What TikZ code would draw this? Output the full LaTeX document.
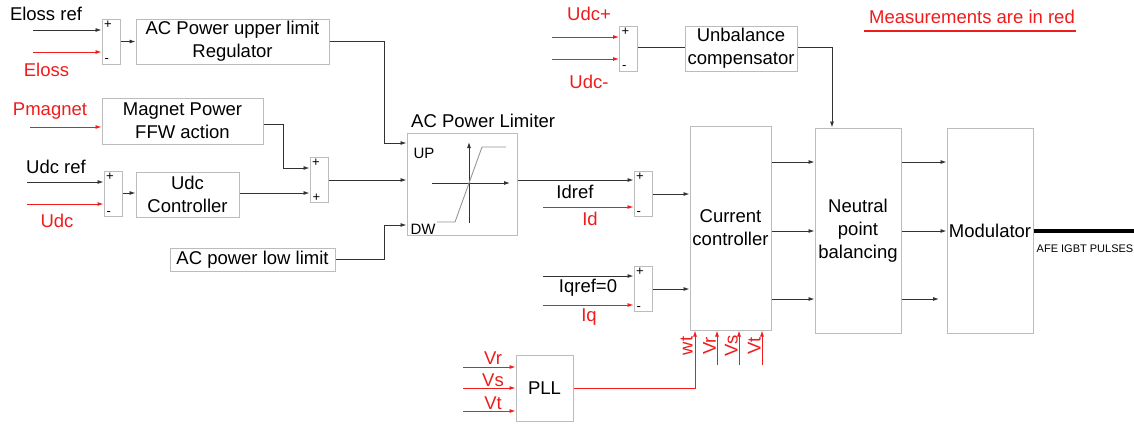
\documentclass[tikz,border=0pt]{standalone}
\usepackage{fontspec}
\setmainfont{Liberation Sans}
\usetikzlibrary{arrows.meta,calc}
\definecolor{mred}{RGB}{240,28,28}
\definecolor{bline}{RGB}{50,50,50}
\definecolor{bgray}{RGB}{188,188,188}
\definecolor{cgray}{RGB}{150,150,150}
\newcommand{\mysum}[4]{%
  \node[box,minimum width=18pt,minimum height=45pt] (#1) at (#2) {};
  \node[sgn,anchor=north west] at ($(#1.north west)+(2.5,2)$) {#3};
  \node[sgn,anchor=south west] at ($(#1.south west)+(3,-1.5)$) {#4};
}
\begin{document}
\begin{tikzpicture}[x=1pt,y=-1pt,
  box/.style={draw=bgray,line width=1pt,inner sep=0pt,align=center,font=\fontsize{18.5}{23}\selectfont},
  lbl/.style={inner sep=0pt,font=\fontsize{18.5}{23}\selectfont},
  rlbl/.style={lbl,text=mred},
  sgn/.style={inner sep=0pt,font=\fontsize{13}{13}\selectfont},
  wire/.style={draw=bline,line width=0.9pt},
  arr/.style={wire,-{Latex[length=6pt,width=4pt]}},
  rwire/.style={draw=mred,line width=0.9pt},
  rarr/.style={rwire,-{Latex[length=6pt,width=4pt]}},
]
\fill[white] (0,0) rectangle (1134,424);
\useasboundingbox (0,0) rectangle (1134,424);

% ---- blocks
\mysum{s1}{111,41.5}{+}{-}
\node[box,minimum width=193pt,minimum height=45pt] (ac) at (232.5,41.5) {AC Power upper limit\\Regulator};
\node[box,minimum width=161pt,minimum height=46pt] (mag) at (182.5,121) {Magnet Power\\FFW action};
\mysum{s2}{319,180}{+}{+}
\mysum{s3}{113,194}{+}{-}
\node[box,minimum width=103pt,minimum height=45pt] (udc) at (187.5,194.5) {Udc\\Controller};
\node[box,minimum width=165pt,minimum height=23pt] (low) at (252.5,259.5) {AC power low limit};
\node[box,minimum width=110pt,minimum height=102pt] (lim) at (462,184) {};
\mysum{s4}{643,194}{+}{-}
\mysum{s5}{643,289}{+}{-}
\mysum{s6}{628.5,48.5}{+}{-}
\node[box,minimum width=112pt,minimum height=45pt] (unb) at (741,48.5) {Unbalance\\compensator};
\node[box,minimum width=81pt,minimum height=204pt] (cc) at (730.5,228) {Current\\controller};
\node[box,minimum width=86pt,minimum height=205pt] (np) at (858,230.5) {Neutral\\point\\balancing};
\node[box,minimum width=86pt,minimum height=205pt] (mod) at (990,230.5) {Modulator};
\node[box,minimum width=57pt,minimum height=66pt] (pll) at (544.5,388) {PLL};

% ---- limiter internals
\node[lbl,anchor=west] (limt) at (411,121) {AC Power Limiter};
\node[lbl,font=\fontsize{15}{15}\selectfont] (up) at (424,153) {UP};
\node[lbl,font=\fontsize{15}{15}\selectfont] (dw) at (423,229) {DW};
\coordinate (ax1) at (469,223); \coordinate (ax2) at (469,142);
\coordinate (ay1) at (432,183); \coordinate (ay2) at (510,183);
\draw[arr] (ax1) -- (ax2);
\draw[arr] (ay1) -- (ay2);
\draw[draw=cgray,line width=0.9pt] (437,222) -- (455,222) -- (482,147) -- (506,147);

% ---- labels
\node[lbl] (tEr) at (46,14) {Eloss ref};
\node[rlbl] (tE) at (46.5,70) {Eloss};
\node[rlbl] (tP) at (50,111) {Pmagnet};
\node[lbl] (tUr) at (56,167) {Udc ref};
\node[rlbl] (tU) at (57,221) {Udc};
\node[lbl] (tId) at (575,192) {Idref};
\node[rlbl] (tI) at (590,219) {Id};
\node[lbl] (tIq) at (588,288) {Iqref=0};
\node[rlbl] (tq) at (589,317) {Iq};
\node[rlbl] (tUp) at (589,14) {Udc+};
\node[rlbl] (tUm) at (589,82) {Udc-};
\node[rlbl] (tVr) at (493,358) {Vr};
\node[rlbl] (tVs) at (493,380) {Vs};
\node[rlbl] (tVt) at (493,403) {Vt};
\node[rlbl,rotate=90,anchor=south,inner sep=1pt] (rwt) at (694,346) {wt};
\node[rlbl,rotate=90,anchor=south,inner sep=1pt] (rvr) at (717,346) {Vr};
\node[rlbl,rotate=90,anchor=south,inner sep=1pt] (rvs) at (739,346) {Vs};
\node[rlbl,rotate=90,anchor=south,inner sep=1pt] (rvt) at (762,346) {Vt};
\node[inner sep=0pt,font=\fontsize{11}{11}\selectfont] (afe) at (1085,249) {AFE IGBT PULSES};
\node[rlbl] (meas) at (972,17) {Measurements are in red};
\coordinate (ul1) at (864,31); \coordinate (ul2) at (1076,31);
\draw[draw=mred,line width=2pt] (ul1) -- (ul2);

% ---- free ends
\coordinate (i1) at (33,30);
\coordinate (i2) at (33,52);
\coordinate (i3) at (30,127);
\coordinate (i4) at (27,182);
\coordinate (i5) at (27,204);
\coordinate (i6) at (543,207);
\coordinate (i7) at (543,276);
\coordinate (i8) at (543,305);
\coordinate (i9) at (552,37);
\coordinate (i10) at (552,59);
\coordinate (p1) at (463,367);
\coordinate (p2) at (463,388);
\coordinate (p3) at (463,411);
\coordinate (b2) at (717,365);
\coordinate (b3) at (739,365);
\coordinate (b4) at (762,365);
\coordinate (wtx) at (695,388);
\coordinate (m3) at (939,299);
\coordinate (pout) at (1134,231);

% ---- connectors left part
\draw[arr] (i1) -- (i1 -| s1.west);
\draw[rarr] (i2) -- (i2 -| s1.west);
\draw[arr] (s1.east) -- (ac.west);
\draw[rarr] (i3) -- (i3 -| mag.west);
\draw[arr] (i4) -- (i4 -| s3.west);
\draw[rarr] (i5) -- (i5 -| s3.west);
\draw[arr] (s3.east |- 0,193) -- (udc.west |- 0,193);
\draw[arr] (udc.east |- 0,193) -- (s2.west |- 0,193);
\draw[arr] (mag.east |- 0,124) -- (283,124) -- (283,168) -- (s2.west |- 0,168);
\draw[arr] (s2.east) -- (lim.west |- s2.east);
\draw[arr] (ac.east) -- (384,41.5) -- (384,143) -- (lim.west |- 0,143);
\draw[arr] (low.east) -- (384,259.5) -- (384,225) -- (lim.west |- 0,225);

% ---- middle
\draw[arr] (lim.east |- 0,180) -- (s4.west |- 0,180);
\draw[rarr] (i6) -- (i6 -| s4.west);
\draw[arr] (s4.east) -- (cc.west |- s4.east);
\draw[arr] (i7) -- (i7 -| s5.west);
\draw[rarr] (i8) -- (i8 -| s5.west);
\draw[arr] (s5.east) -- (cc.west |- s5.east);
\draw[rarr] (i9) -- (i9 -| s6.west);
\draw[rarr] (i10) -- (i10 -| s6.west);
\draw[wire] (s6.east |- 0,47) -- (unb.west |- 0,47);
\draw[arr] (unb.east |- 0,47) -- (832,47) -- (np.north -| 832,0);

% ---- PLL
\draw[rarr] (p1) -- (p1 -| pll.west);
\draw[rarr] (p2) -- (p2 -| pll.west);
\draw[rarr] (p3) -- (p3 -| pll.west);
\draw[rarr] (pll.east |- wtx) -- (wtx) -- (cc.south -| wtx);
\draw[rarr] (b2) -- (cc.south -| b2);
\draw[rarr] (b3) -- (cc.south -| b3);
\draw[rarr] (b4) -- (cc.south -| b4);

% ---- right part
\draw[arr] (cc.east |- 0,162) -- (np.west |- 0,162);
\draw[arr] (cc.east |- 0,231) -- (np.west |- 0,231);
\draw[arr] (cc.east |- 0,299) -- (np.west |- 0,299);
\draw[arr] (np.east |- 0,162) -- (mod.west |- 0,162);
\draw[arr] (np.east |- 0,231) -- (mod.west |- 0,231);
\draw[arr] (np.east |- m3) -- (m3);
\draw[draw=black,line width=4pt] (mod.east |- pout) -- (pout);
\end{tikzpicture}
\end{document}
